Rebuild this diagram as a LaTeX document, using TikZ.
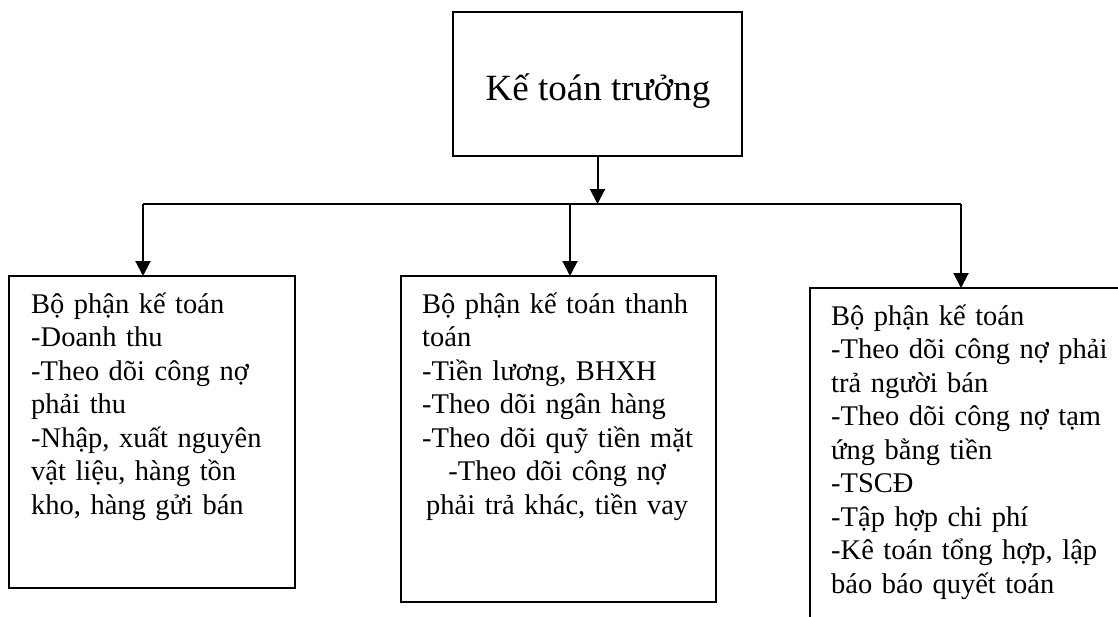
\documentclass[tikz,border=0pt]{standalone}
\usepackage{fontspec}
\setmainfont{Liberation Serif}
\usetikzlibrary{arrows.meta}
\begin{document}
\begin{tikzpicture}[x=1pt,y=-1pt,
  box/.style={draw, line width=2pt, rectangle, inner sep=0pt, outer sep=0pt},
  body/.style={inner sep=0pt, anchor=base west, align=left, text width=320pt,
    font=\fontsize{28.5}{33.5}\selectfont},
  link/.style={line width=2pt},
  arr/.style={line width=2pt, -{Triangle[length=15pt,width=15pt]}}
]
\clip (0,0) rectangle (1118,616);
\fill[white] (0,0) rectangle (1118,616);

% head of the department
\node[box, minimum width=289pt, minimum height=144pt] (chief) at (597.5,84) {};
\node[inner sep=0pt, anchor=base, font=\fontsize{37}{42}\selectfont]
  (chieftext) at (598,100) {Kế toán trưởng};

% three sections
\node[box, minimum width=286pt, minimum height=312pt] (left) at (152,432) {};
\node[box, minimum width=315pt, minimum height=326pt] (mid) at (558.5,439) {};
\node[box, minimum width=400pt, minimum height=400pt] (right) at (1010,488) {};

\node[body] (lefttext) at (31,313) {Bộ phận kế toán\\
-Doanh thu\\
-Theo dõi công nợ\\
phải thu\\
-Nhập, xuất nguyên\\
vật liệu, hàng tồn\\
kho, hàng gửi bán};

\node[body] (midtext) at (422,313) {Bộ phận kế toán thanh\\
toán\\
-Tiền lương, BHXH\\
-Theo dõi ngân hàng\\
-Theo dõi quỹ tiền mặt\\
\makebox[270pt][c]{-Theo dõi công nợ}\\
\makebox[270pt][c]{phải trả khác, tiền vay}};

\node[body] (righttext) at (831,325) {Bộ phận kế toán\\
-Theo dõi công nợ phải\\
trả người bán\\
-Theo dõi công nợ tạm\\
ứng bằng tiền\\
-TSCĐ\\
-Tập hợp chi phí\\
-Kê toán tổng hợp, lập\\
báo báo quyết toán};

% connectors
\coordinate (busL) at (143,204);
\coordinate (busM) at (570,204);
\coordinate (busR) at (961,204);
\draw[arr] (chief.south) -- (chief.south |- busL);
\draw[link] (busL) -- (busR);
\draw[arr] (busL) -- (busL |- left.north);
\draw[arr] (busM) -- (busM |- mid.north);
\draw[arr] (busR) -- (busR |- right.north);
\end{tikzpicture}
\end{document}
